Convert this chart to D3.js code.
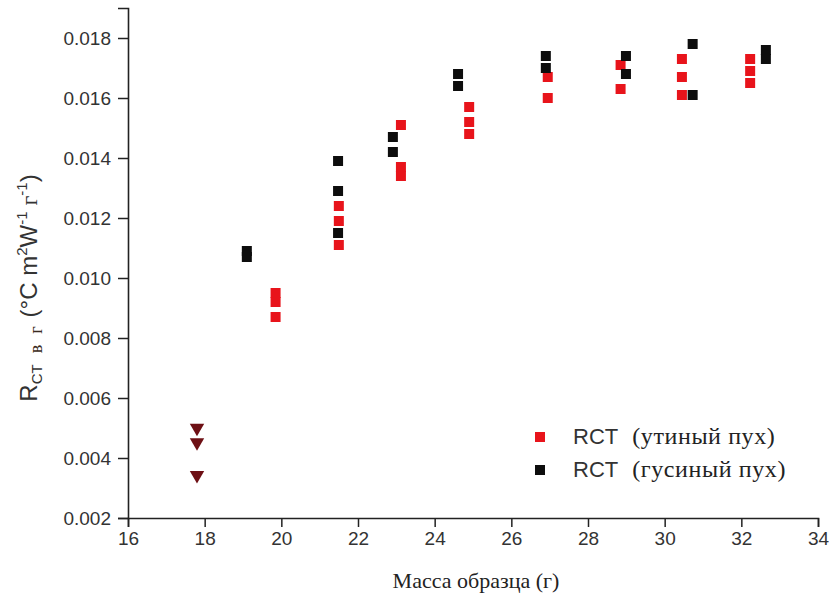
<!DOCTYPE html>
<html><head><meta charset="utf-8">
<script src="https://cdn.jsdelivr.net/npm/d3@7"></script>
<style>
body{margin:0;background:#fff;}
svg{display:block;}
</style></head>
<body>
<svg id="chart" width="829" height="602"></svg>
<script>
// ---- data ----
const duckX = [19.85,19.85,19.85, 21.5,21.5,21.5, 23.12,23.12,23.12, 24.9,24.9,24.9, 26.95,26.95, 28.85,28.85, 30.45,30.45,30.45, 32.23,32.23,32.23];
const duckY = [0.0095,0.0092,0.0087, 0.0124,0.0119,0.0111, 0.0151,0.0137,0.0134, 0.0157,0.0152,0.0148, 0.0167,0.0160, 0.0171,0.0163, 0.0173,0.0167,0.0161, 0.0173,0.0169,0.0165];
const gooseX = [19.1,19.1, 21.48,21.48,21.48, 22.91,22.91, 24.61,24.61, 26.9,26.9, 28.99,28.99, 30.73,30.73, 32.64,32.64];
const gooseY = [0.0109,0.0107, 0.0139,0.0129,0.0115, 0.0147,0.0142, 0.0168,0.0164, 0.0174,0.0170, 0.0174,0.0168, 0.0178,0.0161, 0.0176,0.0173];
const triX = [17.8,17.8,17.8];
const triY = [0.0050,0.00452,0.00343];
const xTicks = [16,18,20,22,24,26,28,30,32,34];
const yTicks = [0.002,0.004,0.006,0.008,0.010,0.012,0.014,0.016,0.018];
const legendLabels = ["(утиный пух)","(гусиный пух)"];

const svg = d3.select("#chart");
const x = d3.scaleLinear().domain([16,34]).range([128,818]);
const y = d3.scaleLinear().domain([0.002,0.019]).range([518,8]);

const sans = "Liberation Sans, Arial, sans-serif";
const serif = "Liberation Serif, Times New Roman, serif";

// axes
const xAxis = d3.axisBottom(x).tickValues(xTicks).tickFormat(d3.format("d")).tickSize(9).tickPadding(5);
const xMinor = d3.axisBottom(x).tickValues(d3.range(17,34,2)).tickFormat("").tickSize(5);
const gx = svg.append("g").attr("transform","translate(0,518)");
gx.call(xMinor);
gx.call(xAxis);
const yAxis = d3.axisLeft(y).tickValues(yTicks).tickFormat(d3.format(".3f")).tickSize(10).tickPadding(7);
const yMinor = d3.axisLeft(y).tickValues(d3.range(0.003,0.0195,0.002)).tickFormat("").tickSize(6);
const gy = svg.append("g").attr("transform","translate(128,0)");
gy.call(yMinor);
gy.call(yAxis);
svg.selectAll(".domain").attr("stroke","#222").attr("stroke-width",1.6);
svg.selectAll(".tick line").attr("stroke","#222").attr("stroke-width",1.5);
svg.selectAll(".tick text").attr("font-family",sans).attr("font-size",19).attr("fill","#333");

// markers
const S = 10;
svg.append("g").selectAll("rect.duck").data(duckX.map((d,i)=>[d,duckY[i]])).join("rect")
  .attr("x",d=>x(d[0])-S/2).attr("y",d=>y(d[1])-S/2).attr("width",S).attr("height",S)
  .attr("fill","#e8141b");
svg.append("g").selectAll("rect.goose").data(gooseX.map((d,i)=>[d,gooseY[i]])).join("rect")
  .attr("x",d=>x(d[0])-S/2).attr("y",d=>y(d[1])-S/2).attr("width",S).attr("height",S)
  .attr("fill","#0d0d0d");
const tri = d3.symbol().type(d3.symbolTriangle).size(90);
svg.append("g").selectAll("path").data(triX.map((d,i)=>[d,triY[i]])).join("path")
  .attr("d",tri).attr("transform",d=>`translate(${x(d[0])},${y(d[1])}) rotate(180)`)
  .attr("fill","#6e1015");

// legend
const legColors = ["#e8141b","#0d0d0d"];
const leg = svg.append("g");
legendLabels.forEach((lab,i)=>{
  const yy = 437 + i*33;
  leg.append("rect").attr("x",535).attr("y",yy-5).attr("width",10).attr("height",10).attr("fill",legColors[i]);
  const t = leg.append("text").attr("x",573).attr("y",yy+7).attr("font-family",sans).attr("font-size",22).attr("fill","#333");
  t.append("tspan").text("RCT");
  t.append("tspan").attr("font-family",serif).attr("font-size",24).attr("letter-spacing",0.6).attr("dx",14).attr("fill","#222").text(lab);
});

// x title
svg.append("text").attr("x",476).attr("y",588).attr("text-anchor","middle")
  .attr("font-family",serif).attr("font-size",22).attr("fill","#222").text("Масса образца (г)");

// y title
const yt = svg.append("text").attr("transform","translate(37,288) rotate(-90)").attr("text-anchor","middle")
  .attr("font-family",sans).attr("font-size",24).attr("fill","#333");
yt.append("tspan").text("R");
yt.append("tspan").attr("font-size",15).attr("dy",5).text("CT");
yt.append("tspan").attr("font-family",serif).attr("font-size",18).attr("dx",11).attr("fill","#3a2a20").text("в");
yt.append("tspan").attr("font-family",serif).attr("font-size",18).attr("dx",11).attr("fill","#3a2a20").text("г");
yt.append("tspan").attr("dy",-5).attr("dx",9).text("(°C m");
yt.append("tspan").attr("font-size",15).attr("dy",-10).text("2");
yt.append("tspan").attr("dy",10).text("W");
yt.append("tspan").attr("font-size",15).attr("dy",-10).text("-1");
yt.append("tspan").attr("font-family",serif).attr("dy",10).attr("dx",6).text("г");
yt.append("tspan").attr("font-size",15).attr("dy",-10).text("-1");
yt.append("tspan").attr("dy",10).text(")");
</script>
</body></html>
